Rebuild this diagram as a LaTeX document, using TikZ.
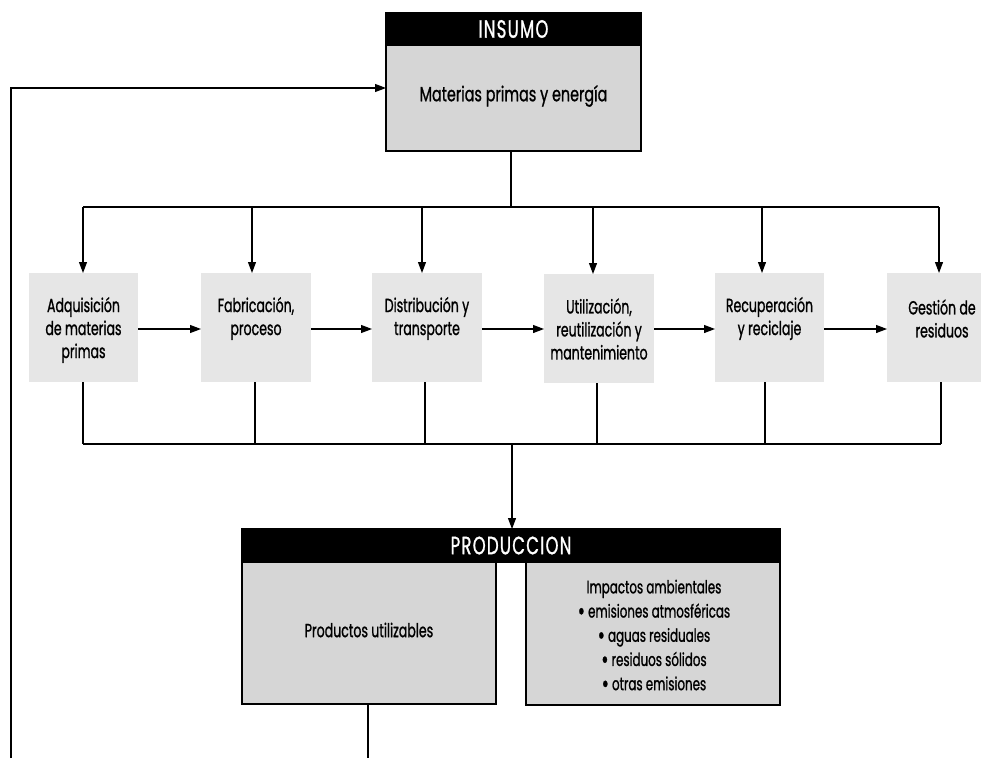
\documentclass[tikz,border=0pt]{standalone}
\usepackage{fontspec}
\setmainfont{Poppins}[FakeStretch=0.66, FakeBold=1]
\usetikzlibrary{arrows.meta}
\definecolor{boxgray}{HTML}{D6D6D6}
\definecolor{procgray}{HTML}{E6E6E6}
\newcommand{\bigbul}{\smash{\raisebox{-2.4pt}{\scalebox{1.45}{\textbullet}}}}
\begin{document}
\begin{tikzpicture}[x=1pt,y=-1pt,
  line width=1.1pt,
  arr/.style={-{Triangle[length=11pt,width=8pt]}},
  lbl/.style={font=\fontsize{19}{23}\selectfont, align=center, inner sep=0},
  hdr/.style={fill=black, draw=black, inner sep=0, outer sep=0, text=white,
    font=\fontsize{25}{28}\selectfont\addfontfeature{LetterSpace=5}},
  graybox/.style={fill=boxgray, draw=black, inner sep=0, outer sep=0},
  procbox/.style={fill=procgray, draw=none, inner sep=0, outer sep=0, minimum height=109pt}
]
\useasboundingbox (0,0) rectangle (981,758);

% INSUMO
\node[hdr, minimum width=255pt, minimum height=32pt] (insh) at (513.5,29) {INSUMO};
\node[graybox, minimum width=255pt, minimum height=106pt] (insb) at (513.5,98) {};
\node[lbl, font=\fontsize{20.5}{24}\selectfont\addfontfeature{FakeStretch=0.7}] (insbt) at (513.5,96) {Materias primas y energía};

% process boxes
\node[procbox, minimum width=109pt] (b1) at (83.5,327.5) {};
\node[procbox, minimum width=110pt] (b2) at (256,327.5) {};
\node[procbox, minimum width=110pt] (b3) at (427,327.5) {};
\node[procbox, minimum width=110pt] (b4) at (599,328.5) {};
\node[procbox, minimum width=109pt] (b5) at (769.5,327.5) {};
\node[procbox, minimum width=110pt] (b6) at (942,327.5) {};

\node[lbl] (b1t) at (83.5,330) {Adquisición\\de materias\\primas};
\node[lbl] (b2t) at (256,318.5) {Fabricación,\\proceso};
\node[lbl] (b3t) at (427,318.5) {Distribución y\\transporte};
\node[lbl] (b4t) at (599,329) {Utilización,\\reutilización y\\mantenimiento};
\node[lbl] (b5t) at (769.5,318.5) {Recuperación\\y reciclaje};
\node[lbl] (b6t) at (942,318.5) {Gestión de\\residuos};

% PRODUCCION
\node[hdr, minimum width=538pt, minimum height=33pt] (prh) at (511,545.5) {PRODUCCION};
\node[graybox, minimum width=254pt, minimum height=142pt] (prl) at (369,633) {};
\node[graybox, minimum width=254pt, minimum height=143pt] (prr) at (653,633.5) {};
\node[lbl] (prlt) at (369,630) {Productos utilizables};
\node[lbl, font=\fontsize{18}{24.2}\selectfont] (prrt) at (654,635)
  {Impactos ambientales\\\bigbul\ emisiones atmosféricas\\\bigbul\ aguas residuales\\\bigbul\ residuos sólidos\\\bigbul\ otras emisiones};

% distribution from INSUMO
\coordinate (td) at (511,207);
\coordinate (t1) at (83,207);
\coordinate (t2) at (252,207);
\coordinate (t3) at (422,207);
\coordinate (t4) at (593,207);
\coordinate (t5) at (762,207);
\coordinate (t6) at (939,207);
\draw (insb.south -| td) -- (td);
\draw (t1) -- (t6);
\draw[arr] (t1) -- (t1 |- b1.north);
\draw[arr] (t2) -- (t2 |- b2.north);
\draw[arr] (t3) -- (t3 |- b3.north);
\draw[arr] (t4) -- (t4 |- b4.north);
\draw[arr] (t5) -- (t5 |- b5.north);
\draw[arr] (t6) -- (t6 |- b6.north);

% chain
\draw[arr] (b1.east |- 0,329) -- (b2.west |- 0,329);
\draw[arr] (b2.east |- 0,329) -- (b3.west |- 0,329);
\draw[arr] (b3.east |- 0,329) -- (b4.west |- 0,329);
\draw[arr] (b4.east |- 0,329) -- (b5.west |- 0,329);
\draw[arr] (b5.east |- 0,329) -- (b6.west |- 0,329);

% collection to PRODUCCION
\coordinate (u1) at (83,444);
\coordinate (u2) at (255,444);
\coordinate (u3) at (425,444);
\coordinate (u4) at (597,444);
\coordinate (u5) at (765,444);
\coordinate (u6) at (941,444);
\coordinate (ud) at (512,444);
\draw (u1 |- b1.south) -- (u1);
\draw (u2 |- b2.south) -- (u2);
\draw (u3 |- b3.south) -- (u3);
\draw (u4 |- b4.south) -- (u4);
\draw (u5 |- b5.south) -- (u5);
\draw (u6 |- b6.south) -- (u6);
\draw (u1) -- (u6);
\draw[arr] (ud) -- (ud |- prh.north);

% feedback
\coordinate (fbot) at (368,758);
\coordinate (lbot) at (11,758);
\coordinate (lin) at (386,88);
\draw (prl.south -| fbot) -- (fbot);
\draw[arr] (lbot) |- (insb.west |- lin);
\end{tikzpicture}
\end{document}
